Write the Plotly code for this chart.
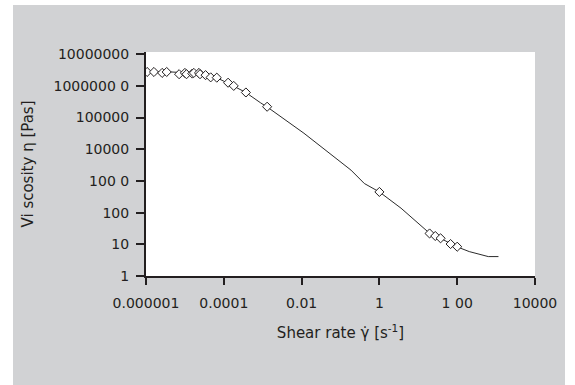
import plotly.graph_objects as go

# Fitted curve (shear rate [1/s], viscosity [Pa s])
curve_rate = [1.0e-6, 3.4e-6, 1.05e-5, 2.5e-5, 4.6e-5, 6.6e-5, 1.26e-4, 3.6e-4, 8.9e-4,
              1.35e-3, 1.15e-2, 3.5e-2, 0.186, 0.41, 1.0, 3.6, 19, 39, 100, 204, 630, 1150]
curve_visc = [2.8e6, 2.8e6, 2.6e6, 2.45e6, 1.95e6, 1.8e6, 1.23e6, 6.3e5, 2.9e5,
              2.1e5, 3.2e4, 1.07e4, 2200, 830, 450, 138, 23, 15, 8.3, 5.9, 4.1, 4.1]

# Measured points
meas_rate = [1.07e-6, 1.6e-6, 2.6e-6, 3.4e-6, 7.1e-6, 1.0e-5, 1.1e-5, 1.55e-5, 1.7e-5,
             2.3e-5, 2.45e-5, 3.4e-5, 4.6e-5, 6.6e-5, 1.29e-4, 1.8e-4, 3.7e-4, 1.3e-3,
             1.0, 19.5, 27.3, 37.4, 67.6, 100]
meas_visc = [2.75e6, 2.75e6, 2.57e6, 2.75e6, 2.34e6, 2.57e6, 2.34e6, 2.45e6, 2.57e6,
             2.57e6, 2.34e6, 2.19e6, 1.86e6, 1.82e6, 1.26e6, 1.0e6, 6.2e5, 2.2e5,
             450, 22, 18.3, 15.5, 10.2, 8.4]

x_tickvals = [1e-6, 1e-4, 1e-2, 1, 100, 1e4]
x_ticktext = ["0.000001", "0.0001", "0.01", "1", "1 00", "10000"]
y_tickvals = [1, 10, 100, 1000, 1e4, 1e5, 1e6, 1e7]
y_ticktext = ["1", "10", "100", "100 0", "10000", "100000", "1000000 0", "10000000"]

FONT = "DejaVu Sans"
TXT = "#231f20"

fig = go.Figure()
fig.add_trace(go.Scatter(x=curve_rate, y=curve_visc, mode="lines",
                         line=dict(color="#2b2b2b", width=1), showlegend=False,
                         hoverinfo="skip"))
fig.add_trace(go.Scatter(x=meas_rate, y=meas_visc, mode="markers",
                         marker=dict(symbol="diamond", size=7, color="white",
                                     line=dict(color="#231f20", width=1)),
                         showlegend=False))

L, R, T, B = 146, 535, 52, 276
W, H = 575, 385
pw, ph = R - L, B - T

def px(x):
    return (x - L) / pw

def py(y):
    return (B - y) / ph

fig.update_layout(
    width=W, height=H,
    margin=dict(l=L, r=W - R, t=T, b=H - B, pad=0),
    paper_bgcolor="white",
    plot_bgcolor="rgba(0,0,0,0)",
    font=dict(family=FONT, size=14, color=TXT),
    shapes=[
        dict(type="rect", xref="paper", yref="paper", layer="below",
             x0=px(13), x1=px(565), y0=py(400), y1=py(5),
             fillcolor="#d1d2d4", line=dict(width=0)),
        dict(type="rect", xref="paper", yref="paper", layer="below",
             x0=0, x1=1, y0=0, y1=1,
             fillcolor="white", line=dict(width=0)),
    ],
    xaxis=dict(
        type="log", range=[-6, 4], tickvals=x_tickvals, ticktext=x_ticktext,
        showgrid=False, zeroline=False, showline=True, linecolor="#231f20",
        linewidth=2, ticks="outside", ticklen=7, tickwidth=2, tickcolor="#231f20",
        ticklabelstandoff=6,
        tickfont=dict(family=FONT, size=14, color=TXT),
        title=dict(text="Shear rate γ̇ [s<sup>-1</sup>]",
                   font=dict(family=FONT, size=15, color=TXT), standoff=18),
    ),
    yaxis=dict(
        type="log", range=[0, 7.07], tickvals=y_tickvals, ticktext=y_ticktext,
        showgrid=False, zeroline=False, showline=True, linecolor="#231f20",
        linewidth=2, ticks="outside", ticklen=8, tickwidth=2, tickcolor="#231f20",
        ticklabelstandoff=4,
        tickfont=dict(family=FONT, size=14, color=TXT),
        title=dict(text="Vi scosity η [Pas]",
                   font=dict(family=FONT, size=15, color=TXT), standoff=16),
    ),
)

fig.write_html("out.html")
